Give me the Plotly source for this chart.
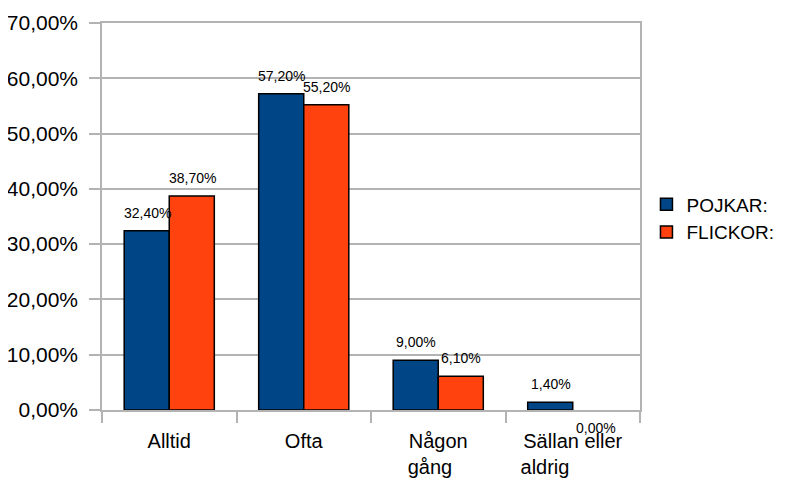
import plotly.graph_objects as go

# ── Data ──────────────────────────────────────────────────────────────────────
NB = "\u00a0"
# trailing no-break spaces mimic the left-aligned second lines of the original labels
CATEGORIES = [
    "Alltid",
    "Ofta",
    "Någon<br>gång" + NB * 3,
    "Sällan eller<br>aldrig" + NB * 10,
]
POJKAR = [32.4, 57.2, 9.0, 1.4]
FLICKOR = [38.7, 55.2, 6.1, 0.0]
SERIES_NAMES = ["POJKAR:", "FLICKOR:"]

# ── Style ─────────────────────────────────────────────────────────────────────
BLUE = "#004586"
ORANGE = "#ff420e"
GRID = "#b3b3b3"
FONT = "Liberation Sans, Arial, sans-serif"
LABEL_FONT = dict(family=FONT, size=14, color="black")


def fmt(v):
    return f"{v:.2f}".replace(".", ",") + "%"


fig = go.Figure()
series = [(SERIES_NAMES[0], POJKAR, BLUE, -22), (SERIES_NAMES[1], FLICKOR, ORANGE, 23)]
for name, vals, color, dx in series:
    fig.add_trace(go.Bar(
        x=CATEGORIES,
        y=vals,
        name=name,
        # no outline on an empty bar, so nothing is drawn on the axis
        marker=dict(color=color, line=dict(color="black",
                                           width=[1.5 if v > 0 else 0 for v in vals])),
        cliponaxis=False,
    ))
    # value labels above each bar; a zero bar gets its label below the axis
    for cat, v in zip(CATEGORIES, vals):
        fig.add_annotation(
            x=cat, y=v, text=fmt(v), showarrow=False,
            xshift=dx, yanchor="bottom" if v > 0 else "middle",
            yshift=8 if v > 0 else -18,
            font=LABEL_FONT,
        )

fig.update_layout(
    width=787,
    height=482,
    paper_bgcolor="white",
    plot_bgcolor="white",
    separators=", ",
    font=dict(family=FONT, size=20, color="black"),
    margin=dict(l=94, r=155, t=15, b=80, autoexpand=False),
    barmode="group",
    bargap=0.33,
    bargroupgap=0,
    legend=dict(
        x=1.012, xanchor="left", y=0.495, yanchor="middle",
        font=dict(family=FONT, size=19, color="black"),
        bgcolor="rgba(0,0,0,0)",
        tracegroupgap=0,
    ),
    xaxis=dict(
        showgrid=False,
        showline=True, linecolor=GRID, linewidth=1.5, mirror=True,
        ticks="outside", tickson="boundaries", ticklen=11,
        tickcolor=GRID, tickwidth=1.5,
        tickangle=0, automargin=False,
        ticklabelstandoff=12,
        tickfont=dict(family=FONT, size=20, color="black"),
    ),
    yaxis=dict(
        range=[0, 70], dtick=10,
        tickformat=".2f", ticksuffix="%",
        showgrid=True, gridcolor=GRID, gridwidth=1.5,
        showline=True, linecolor=GRID, linewidth=1.5, mirror=True,
        zeroline=False, automargin=False,
        ticks="outside", ticklen=11, tickcolor=GRID, tickwidth=1.5,
        ticklabelstandoff=7,
        tickfont=dict(family=FONT, size=21, color="black"),
    ),
)

fig.write_html("out.html")
